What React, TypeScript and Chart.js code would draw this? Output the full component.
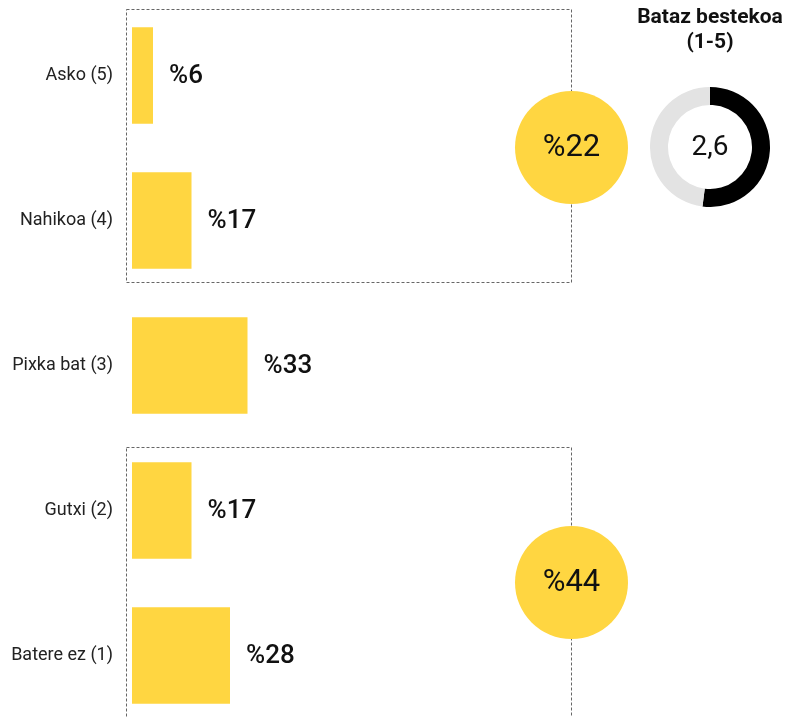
import React, { useEffect, useRef } from "react";
import { Chart, registerables } from "chart.js";
Chart.register(...registerables);

const categories = ["Asko (5)", "Nahikoa (4)", "Pixka bat (3)", "Gutxi (2)", "Batere ez (1)"];
const values = [6, 17, 33, 17, 28];
const valueLabels = ["%6", "%17", "%33", "%17", "%28"];
const groupMembers = [[0, 1], [3, 4]];
const groupLabels = ["%22", "%44"];
const averageParts = [2.6, 2.4];
const averageLabel = "2,6";
const averageTitle = ["Bataz bestekoa", "(1-5)"];

const YELLOW = "#FFD641";
const FONT = "Roboto, 'Noto Sans', sans-serif";

export default function App() {
  const barRef = useRef<HTMLCanvasElement | null>(null);
  const donutRef = useRef<HTMLCanvasElement | null>(null);

  useEffect(() => {
    const overlay = {
      id: "overlay",
      beforeDatasetsDraw(chart: any) {
        const ctx = chart.ctx;
        const meta = chart.getDatasetMeta(0);
        const area = chart.chartArea;
        const padTop = [18, 15];
        const padBottom = [13, 20];
        ctx.save();
        ctx.strokeStyle = "#666";
        ctx.lineWidth = 1;
        ctx.setLineDash([3, 2]);
        groupMembers.forEach((g, gi) => {
          const a = meta.data[g[0]].getProps(["y", "height"], true);
          const b = meta.data[g[g.length - 1]].getProps(["y", "height"], true);
          const top = Math.round(a.y - a.height / 2 - padTop[gi]) + 0.5;
          const bottom = Math.round(b.y + b.height / 2 + padBottom[gi]) + 0.5;
          const left = area.left - 5.5;
          const right = area.left + 439.5;
          ctx.strokeRect(left, top, right - left, bottom - top);
        });
        ctx.restore();
      },
      afterDatasetsDraw(chart: any) {
        const ctx = chart.ctx;
        const meta = chart.getDatasetMeta(0);
        const area = chart.chartArea;
        ctx.save();
        // value labels
        ctx.fillStyle = "#111";
        ctx.textBaseline = "middle";
        ctx.textAlign = "left";
        ctx.font = `500 26px ${FONT}`;
        meta.data.forEach((el: any, i: number) => {
          const p = el.getProps(["x", "y"], true);
          ctx.fillText(valueLabels[i], p.x + 16, p.y + 1);
        });
        // group circles
        groupMembers.forEach((g, gi) => {
          const a = meta.data[g[0]].getProps(["y"], true);
          const b = meta.data[g[g.length - 1]].getProps(["y"], true);
          const cy = (a.y + b.y) / 2 - 0.5;
          const cx = area.left + 439.5;
          ctx.beginPath();
          ctx.fillStyle = YELLOW;
          ctx.arc(cx, cy, 56.5, 0, Math.PI * 2);
          ctx.fill();
          ctx.fillStyle = "#111";
          ctx.textAlign = "center";
          ctx.font = `400 31px ${FONT}`;
          ctx.fillText(groupLabels[gi], cx, cy + 1);
        });
        // average title
        ctx.font = `700 21px ${FONT}`;
        ctx.textAlign = "center";
        ctx.fillStyle = "#111";
        ctx.fillText(averageTitle[0], 710, 18);
        ctx.fillText(averageTitle[1], 710, 43);
        ctx.restore();
      },
    };

    const bar = new Chart(barRef.current as HTMLCanvasElement, {
      type: "bar",
      data: {
        labels: categories,
        datasets: [
          {
            data: values,
            backgroundColor: YELLOW,
            borderWidth: 0,
            barPercentage: 0.666,
            categoryPercentage: 1,
          },
        ],
      },
      options: {
        indexAxis: "y",
        responsive: false,
        animation: false,
        layout: { padding: { top: 3, bottom: 2, left: 0, right: 27 } },
        plugins: { legend: { display: false }, tooltip: { enabled: false }, title: { display: false } },
        scales: {
          x: { display: false, min: 0, max: 180 },
          y: {
            offset: true,
            grid: { display: false, drawTicks: false },
            border: { display: false },
            ticks: { color: "#222", font: { family: FONT, size: 18 }, padding: 19 },
            afterFit(scale: any) {
              scale.width = 132;
              scale.paddingTop = 0;
              scale.paddingBottom = 0;
            },
          },
        },
      },
      plugins: [overlay],
    } as any);

    const centerText = {
      id: "centerText",
      afterDraw(chart: any) {
        const ctx = chart.ctx;
        const m = chart.getDatasetMeta(0).data[0];
        ctx.save();
        ctx.fillStyle = "#111";
        ctx.font = `400 28px ${FONT}`;
        ctx.textAlign = "center";
        ctx.textBaseline = "middle";
        ctx.fillText(averageLabel, m.x, m.y + 1);
        ctx.restore();
      },
    };

    const donut = new Chart(donutRef.current as HTMLCanvasElement, {
      type: "doughnut",
      data: {
        labels: ["Batez bestekoa", ""],
        datasets: [
          {
            data: averageParts,
            backgroundColor: ["#000000", "#E3E3E3"],
            borderWidth: 0,
          },
        ],
      },
      options: {
        responsive: false,
        animation: false,
        cutout: "70%",
        plugins: { legend: { display: false }, tooltip: { enabled: false } },
      },
      plugins: [centerText],
    } as any);

    return () => {
      bar.destroy();
      donut.destroy();
    };
  }, []);

  return (
    <div
      style={{
        position: "absolute",
        left: 0,
        top: 0,
        width: 789,
        height: 717,
        overflow: "hidden",
        background: "#fff",
      }}
    >
      <canvas ref={barRef} width={789} height={730} style={{ position: "absolute", left: 0, top: 0 }} />
      <canvas
        ref={donutRef}
        width={120}
        height={120}
        style={{ position: "absolute", left: 650, top: 87 }}
      />
    </div>
  );
}
